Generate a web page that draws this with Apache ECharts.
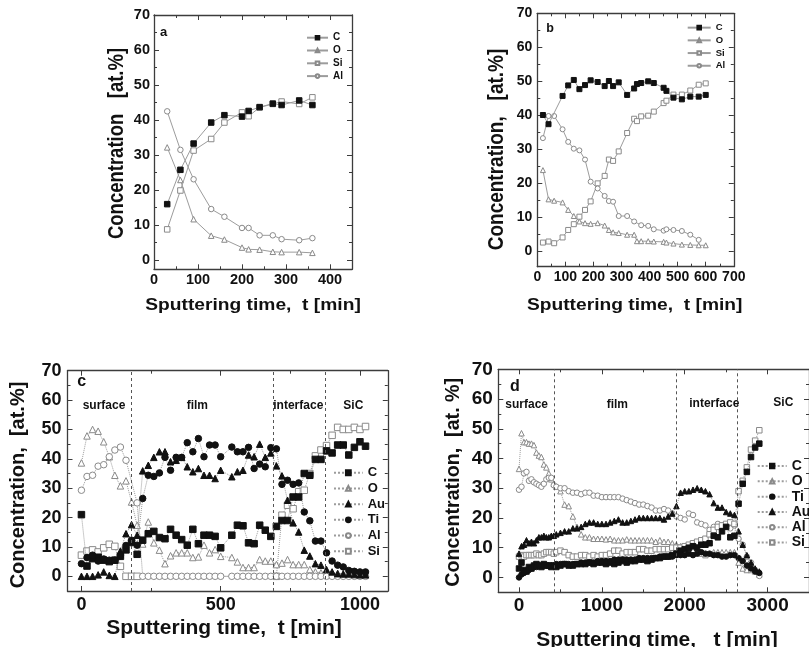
<!DOCTYPE html>
<html>
<head>
<meta charset="utf-8">
<script src="https://cdn.jsdelivr.net/npm/echarts@6/dist/echarts.min.js"></script>
<style>
  html, body { margin: 0; padding: 0; background: #fff; }
  #chart { width: 809px; height: 647px; }
</style>
</head>
<body>
<div id="chart"></div>
<script>
// ---------- (a) depth profile, solid lines ----------
const aTime = [30, 60, 90, 130, 160, 200, 215, 240, 270, 290, 330, 360];
const aC  = [16.0, 25.8, 33.3, 39.3, 41.4, 41.0, 42.6, 43.7, 44.7, 44.3, 45.6, 44.3];
const aO  = [32.2, 22.9, 11.7, 7.0, 5.9, 3.6, 3.1, 3.0, 2.4, 2.3, 2.3, 2.1];
const aSi = [8.8, 19.9, 31.3, 34.6, 39.3, 42.2, 41.1, 43.6, 44.6, 45.3, 44.6, 46.5];
const aAl = [42.5, 31.5, 23.1, 14.6, 12.4, 9.2, 9.2, 7.1, 7.1, 6.0, 5.7, 6.3];

// ---------- (b) depth profile, solid lines ----------
const bTime = [20, 40, 60, 90, 110, 130, 150, 170, 190, 215, 240, 255, 270, 290, 320, 345, 355, 370, 395, 415, 450, 460, 485, 515, 545, 575, 600];
const bC  = [40.1, 37.4, null, 45.7, 48.8, 50.4, 47.7, 48.9, 50.3, 49.8, 48.6, 50.1, 48.6, 49.7, 46.0, 47.9, 49.2, 49.5, 50.0, 49.5, 48.1, 47.2, 45.2, 44.7, 45.5, 45.5, 46.0];
const bO  = [23.9, 15.3, 14.9, 14.4, 12.2, 10.4, 8.8, 8.3, 8.1, 8.3, 7.6, 6.3, 5.6, 5.4, 4.9, 4.9, 3.0, 3.0, 3.0, 2.9, 2.8, 2.6, 2.3, 2.0, 1.9, 1.8, 1.8];
const bSi = [2.6, 2.9, 2.4, 4.1, 6.3, 8.0, 10.2, 12.2, 14.7, 20.0, 22.2, 27.0, 26.6, 29.4, 34.8, 39.0, 38.3, 39.7, 39.9, 41.1, 43.6, 44.3, 46.1, 46.1, 47.3, 49.0, 49.4];
const bAl = [33.3, 39.8, 39.8, 35.9, 32.2, 30.2, 29.7, 27.0, 20.5, 18.5, 16.3, 14.8, 14.6, 10.4, 10.4, 8.8, null, 7.7, 7.5, 6.5, 6.1, 6.5, 6.3, 6.0, 4.9, 3.4, null];

// ---------- (c) Au/Ti film profile, dotted lines ----------
const cTime = [0, 20, 40, 60, 80, 100, 120, 140, 160, 180, 200, 220, 240, 260, 280, 300, 320, 340, 360, 380, 400, 420, 440, 460, 480, 500,
               540, 560, 580, 600, 620, 640, 660, 680, 700, 720, 740, 760, 780, 800, 820, 840, 860, 880, 900, 920, 940, 960, 980, 1000, 1020];
const cC  = [21, 3.5, 6, 6.5, 5.5, 5, 5.5, 6.8, 9, 11.5, 7.5, 12.3, 14.5, 15.3, 13.2, 12.8, 16, 14, 12.5, 10.6, 16, 11.1, 14, 14, 13.6, 9.7,
             14, 17.4, 17.2, 11.4, 11.1, 17.4, 15.7, 13.6, 17, 19, 19, 27, 27, 35, 34.4, 39.8, 39.8, 42.7, 42, 44.7, 44.7, 41.3, 43.9, 45.8, 44.3];
const cO  = [38.6, 47.8, 50, 49.4, 45.8, 40.7, 34.4, 30.8, 32.5, 25.3, 17.4, 11, 18.5, 11.4, 8.9, 4.3, 7, 8, 8, 8, 6.4, 6.6, 10.6, 8, 9.1, 6.8,
             6.4, 4.9, 3, 3, 3, 5.7, 5.2, 5.2, 4, 4.5, 5.7, 4, 4, 4, 2.3, 1.5, 1.2, 1, 1, 1, 0.8, 0.8, 0.8, 0.8, 0.8];
const cAu = [0, 0, 0, 0.5, 1.5, 0.3, 0, 8.6, 14.5, 17.6, 14, 35.9, 37.8, 40.5, 42.4, 42.4, 39, 39.5, 40.5, 37.3, 35.6, 36.7, 34.4, 34.4, 33.3, 36.1,
             33.9, 35.6, 36.1, 41.3, 40.7, 45, 40.5, 42, 37.6, 34.2, 25.9, 18.2, 15.1, 8.9, 6.9, 4.3, 3.8, 2.3, 1.5, 0.9, 0.8, 0.8, 0.6, 0.5, 0.5];
const cTi = [4.3, 6.4, 7.2, 5.2, 5.9, 5.5, 5.5, 7, 10.5, 12.3, 10.6, 26.5, 34.4, 34, 35.2, 40.5, 36.1, 40.5, 40.5, 45.5, 42.4, 46.9, 40.7, 44.7, 44.7, 40.7,
             44, 42.4, 42.4, 43.9, 36.7, 38.2, 37.3, 43.8, 43.4, 31.3, 32.7, 31.3, 31.8, 21.9, 18.9, 12, 12, 8, 5.2, 3.8, 3.2, 2, 1.7, 1.5, 1.5];
const cAl = [29.3, 34, 34.4, 37.5, 38, 40.7, 43, 44, 39.5, null, 25, 0, 0, 0, 0, 0, 0, 0, 0, 0, 0, 0, 0, 0, 0, 0,
             0, 0, 0, 0, 0, 0, 0, 0, 0, 0, 0, 0, 0, 0, 0, 0, 0, 0, 0, 0, 0, 0, 0, 0, 0];
const cSi = [7.2, 8.6, 9, 8.3, 9.7, 10.9, 10.2, 3.4, 0, 0, 0, null, null, null, null, null, null, null, null, null, null, null, null, null, null, null,
             null, null, null, null, null, null, null, null, 0, 20.8, 24.2, 23, 28.8, 29.3, 35, 41, 43, 44.5, 48, 50.7, 50, 50, 50.7, 50, 51];
const cBounds = [180, 690, 874];

// ---------- (d) Au/Ti film profile, dotted lines ----------
const dTime = [0, 30, 60, 90, 120, 150, 180, 210, 240, 270, 300, 330, 360, 390, 420, 450,
               500, 550, 600, 650, 700, 750, 800, 850, 900, 950, 1000, 1050, 1100, 1150, 1200, 1250, 1300, 1350, 1400, 1450,
               1500, 1550, 1600, 1650, 1700, 1750, 1800, 1850, 1900, 1950, 2000, 2050, 2100, 2150, 2200, 2250, 2300, 2350, 2400, 2450,
               2500, 2550, 2600, 2650, 2700, 2750, 2800, 2850, 2900];
const dC  = [3, 5, 2.5, 2, 3.5, 3, 4, 4.5, 4, 3.5, 4.5, 4, 4, 3.5, 4, 3.5,
             4, 4.5, 4, 4, 4.5, 4.5, 4.5, 5, 4.5, 5, 5, 4.5, 5, 4.5, 5, 5.5, 5, 5.5, 5.5, 6,
             6, 5.5, 6, 6.5, 6.5, 7, 7, 7.5, 8, 9, 9.5, 10, 10.5, 10, 11, 11, 11.5, 14, 13.5, 15.5,
             17, 13.5, 14, 24.8, 31.5, 35.5, 40.5, 43.7, 45];
const dO  = [36.5, 48.5, 45.5, 45.5, 45, 45, 44.5, 42, 41, 40.5, 38, 37, 35, 33, 31.5, 30.5,
             29, 24.5, 24, 20.5, 17, 14.5, 13.5, 13.5, 13, 13, 13, 12.8, 13, 12.5, 12.5, 12.5, 12.8, 12.5, 12.5, 12.5,
             12.5, 12.5, 12.5, 12, 12.5, 12, 12, 11.5, 11, 10.5, 10, 9.5, 9, 8.5, 8, 7.5, 8, 8.5, 8.5, 8.5,
             8.5, 8.5, 8.5, 5, 3, 2.5, 2.5, 2, 1];
const dTi = [0, 1, 1.5, 2, 2.5, 3, 3.5, 3.5, 4, 4, 4, 4, 4, 4, 4, 4.5,
             4.5, 4.5, 4.5, 4.5, 4.5, 5, 5, 5, 5, 5.5, 5.5, 5.5, 5.5, 6, 6, 6, 6, 6, 6, 6.5,
             6.5, 6.5, 6.5, 6.5, 7, 7, 7, 7, 7.5, 7.5, 7.5, 8, 7.5, 8, 8.5, 8, 8, 7.5, 7.5, 7,
             7, 7.5, 7.5, 6.5, 5.5, 4, 3, 2, 1.5];
const dAu = [8, 10.5, 11, 12.5, 11.5, 12, 11.5, 12.5, 13.5, 13.5, 14, 13.5, 13.5, 14, 14, 14.5,
             15, 15.5, 15.5, 16.5, 16.5, 17, 18, 18.5, 18.5, 18, 18, 18, 18.5, 19, 19.5, 18.5, 18.5, 19, 19.5, 20,
             20, 20, 20, 20, 20, 19.5, 20.5, 21.5, 24, 28.5, 29, 29, 29.5, 30, 29.5, 29, 28, 25, 23.5, 23.5,
             22, 21.5, 21, 15.5, 11, 7.5, 5, 3, 2];
const dAl = [29.5, 30.5, 35, 35.5, 32.5, 33, 32, 31.5, 31, 30.5, 31.5, 33, 33.5, 33.5, 31, 30.5,
             30, 30, 29, 28.5, 28.5, 28, 28.5, 28.5, 27.5, 27.5, 27, 27, 27, 27, 27, 26.5, 26, 25.5, 25, 24.5,
             24.5, 24, 23.5, 22.5, 22.5, 23, 22.5, 21.5, 20.5, 20, 19.5, 21.5, 21, 18.5, 18, 17.5, 16, 17, 18, 17.5,
             17, 16.5, 17.5, 13, 11, 7, 5, 2.5, 0.5];
const dSi = [7, 7.5, 7, 7.5, 7.5, 7.5, 7.5, 8, 7.5, 7.5, 8, 8.5, 8.5, 8.5, 8, 8.5,
             9, 8.5, 7.5, 7, 7, 7.5, 7.5, 7, 7.5, 7, 7.5, 7.5, 8, 9, 9, 8, 8.5, 8.5, 8.5, 9.5,
             9.5, 9, 9, 9.5, 9.5, 9.5, 9.5, 10, 10, 10, 10.5, 11, 11.5, 12, 12.5, 13, 14.5, 16, 17, 17.5,
             18, 18.5, 18, 29, 32.5, 37, 43, 46, 49.5];
const dBounds = [421, 1892, 2630];

// ---------- shared text ----------
const regionNames = ['surface', 'film', 'interface', 'SiC'];
const xTitle = 'Sputtering time,  t [min]';

const FONT = 'Arial, "Liberation Sans", Helvetica, sans-serif';
const INK = '#111';
const FRAME = '#3c3c3c';
const MARK_GRAY = '#8a8a8a';
const LINE_GRAY = '#9c9c9c';

const MARKERS = {
  C:  { symbol: 'rect',     fill: INK,    stroke: INK },
  O:  { symbol: 'triangle', fill: '#fff', stroke: MARK_GRAY },
  Si: { symbol: 'rect',     fill: '#fff', stroke: MARK_GRAY },
  Al: { symbol: 'circle',   fill: '#fff', stroke: MARK_GRAY },
  Au: { symbol: 'triangle', fill: INK,    stroke: INK },
  Ti: { symbol: 'circle',   fill: INK,    stroke: INK }
};

const panels = [
  { key: 'a', grid: { left: 154, top: 15, width: 198, height: 254.3 },
    x: { min: 0, max: 450, step: 100, hideMin: false, hideMax: true },
    y: { min: -2.6, max: 70, step: 10 },
    tickFont: 14.5, xMargin: 3, yMargin: 4, lineType: 'solid', size: 5.5,
    time: aTime, series: [['C', aC], ['O', aO], ['Si', aSi], ['Al', aAl]],
    legend: { left: 306, top: 31.3, itemWidth: 21, itemHeight: 4.5, font: 10, lineHeight: 12.8 } },
  { key: 'b', grid: { left: 537.3, top: 13.3, width: 196.5, height: 253.4 },
    x: { min: 0, max: 700, step: 100, hideMin: false, hideMax: false },
    y: { min: -4.5, max: 70, step: 10 },
    tickFont: 14, xMargin: 3, yMargin: 5, lineType: 'solid', size: 5,
    time: bTime, series: [['C', bC], ['O', bO], ['Si', bSi], ['Al', bAl]],
    legend: { left: 686.7, top: 21.3, itemWidth: 23, itemHeight: 4.5, font: 9.5, lineHeight: 12.7 } },
  { key: 'c', grid: { left: 67.5, top: 370.7, width: 320.3, height: 220.3 },
    x: { min: -50, max: 1100, step: 500, hideMin: true, hideMax: true },
    y: { min: -5, max: 70, step: 10 },
    tickFont: 18, xMargin: 5, yMargin: 6, lineType: 'dotted', size: 6.5,
    time: cTime, series: [['C', cC], ['O', cO], ['Au', cAu], ['Ti', cTi], ['Al', cAl], ['Si', cSi]],
    bounds: cBounds,
    legend: { left: 333, top: 464.9, itemWidth: 28.7, itemHeight: 6, font: 13, lineHeight: 15.7 } },
  { key: 'd', grid: { left: 498.3, top: 369.3, width: 327, height: 223 },
    x: { min: -250, max: 3500, step: 1000, hideMin: true, hideMax: true },
    y: { min: -5, max: 70, step: 10 },
    tickFont: 19, xMargin: 4, yMargin: 5.5, lineType: 'dotted', size: 5.5,
    time: dTime, series: [['C', dC], ['O', dO], ['Ti', dTi], ['Au', dAu], ['Al', dAl], ['Si', dSi]],
    bounds: dBounds,
    legend: { left: 756.7, top: 458.4, itemWidth: 29, itemHeight: 5.5, font: 14, lineHeight: 15.3 } }
];

// Axis builder: ticks sit on nice multiples of `step` via min/maxInterval,
// labels only on the bottom/left axes, ticks mirrored on top/right.
function axis(gi, range, position, withLabels, p, isX) {
  return {
    type: 'value', gridIndex: gi, position: position,
    min: range.min, max: range.max,
    minInterval: range.step, maxInterval: range.step,
    axisLine: { show: true, onZero: false, lineStyle: { color: FRAME, width: 1.3 } },
    axisTick: { show: true, inside: true, length: 5, lineStyle: { color: FRAME, width: 1 } },
    minorTick: { show: true, splitNumber: 2, length: 3, lineStyle: { color: FRAME, width: 1 } },
    splitLine: { show: false },
    axisLabel: {
      show: withLabels,
      fontFamily: FONT, fontWeight: 'bold', fontSize: p.tickFont, color: INK,
      margin: isX ? p.xMargin : p.yMargin,
      showMinLabel: isX ? !range.hideMin : false,
      showMaxLabel: isX ? !range.hideMax : true,
      formatter: v => String(v)
    }
  };
}

const grids = [], xAxes = [], yAxes = [], series = [], legends = [];

panels.forEach((p, gi) => {
  grids.push(Object.assign({ containLabel: false }, p.grid));
  xAxes.push(axis(gi, p.x, 'bottom', true, p, true));
  xAxes.push(axis(gi, p.x, 'top', false, p, true));
  yAxes.push(axis(gi, p.y, 'left', true, p, false));
  yAxes.push(axis(gi, p.y, 'right', false, p, false));

  p.series.forEach(([el, vals], si) => {
    const m = MARKERS[el];
    const s = {
      type: 'line',
      name: p.key + ':' + el,
      xAxisIndex: gi * 2, yAxisIndex: gi * 2,
      data: p.time.map((t, i) => [t, vals[i]]).filter(d => d[1] !== null),
      symbol: m.symbol, symbolSize: p.size,
      showSymbol: true, showAllSymbol: true, connectNulls: true,
      clip: false, animation: false, silent: true,
      itemStyle: { color: m.fill, borderColor: m.stroke, borderWidth: 1 },
      lineStyle: { color: LINE_GRAY, width: 1, type: p.lineType },
      emphasis: { disabled: true },
      z: m.fill === INK ? 4 : 3
    };
    if (p.key === 'c' && el === 'Si') s.z = 2;
    if (p.bounds && si === 0) {
      s.markLine = {
        silent: true, animation: false, symbol: ['none', 'none'],
        label: { show: false },
        lineStyle: { color: '#555', type: [3, 3], width: 1 },
        data: p.bounds.map(v => ({ xAxis: v }))
      };
    }
    series.push(s);
  });

  legends.push({
    orient: 'vertical', left: p.legend.left, top: p.legend.top,
    padding: 0, itemGap: 0, selectedMode: false,
    itemWidth: p.legend.itemWidth, itemHeight: p.legend.itemHeight,
    data: p.series.map(([el]) => p.key + ':' + el),
    formatter: name => name.split(':')[1],
    textStyle: { fontFamily: FONT, fontWeight: 'bold', fontSize: p.legend.font, color: INK, lineHeight: p.legend.lineHeight }
  });
});

function label(str, x, y, size, extra) {
  const e = Object.assign({ rotation: 0, scaleX: 1, scaleY: 1 }, extra || {});
  return {
    type: 'text', x: x, y: y, rotation: e.rotation, scaleX: e.scaleX, scaleY: e.scaleY, silent: true, z: 10,
    style: {
      text: str, fill: INK, fontFamily: FONT, fontWeight: 'bold', fontSize: size,
      align: 'center', verticalAlign: 'middle', textAlign: 'center', textVerticalAlign: 'middle'
    }
  };
}

const V = Math.PI / 2;
const graphics = [
  // panel letters
  label('a', 163.7, 32.3, 13),
  label('b', 550, 29, 12.5),
  label('c', 81.7, 381.7, 16),
  label('d', 515, 386.7, 16),
  // axis titles
  label('Concentration   [at.%]', 117, 143.5, 18.5, { rotation: V, scaleY: 1.15 }),
  label('Concentration,   [at.%]', 496.7, 149.5, 19, { rotation: V, scaleY: 1.15 }),
  label('Concentration,  [at.%]', 18.3, 485, 20, { rotation: V }),
  label('Concentration,  [at. %]', 453.3, 482.3, 19.7, { rotation: V }),
  label(xTitle, 253, 305, 17, { scaleX: 1.13 }),
  label(xTitle, 634.7, 305, 17, { scaleX: 1.13 }),
  label(xTitle, 224, 628.3, 21),
  label('Sputtering time,   t [min]', 657, 640, 21),
  // region names
  label(regionNames[0], 104, 406, 12),
  label(regionNames[1], 197.3, 406, 12),
  label(regionNames[2], 298.3, 406, 12),
  label(regionNames[3], 353.3, 406, 12),
  label(regionNames[0], 526.7, 405, 12),
  label(regionNames[1], 617.3, 404.7, 12),
  label(regionNames[2], 714.3, 403.5, 12),
  label(regionNames[3], 783.3, 403, 12)
];

const chart = echarts.init(document.getElementById('chart'), null, { renderer: 'canvas' });
chart.setOption({
  backgroundColor: '#fff',
  animation: false,
  grid: grids,
  xAxis: xAxes,
  yAxis: yAxes,
  legend: legends,
  series: series,
  graphic: graphics
});
</script>
</body>
</html>
